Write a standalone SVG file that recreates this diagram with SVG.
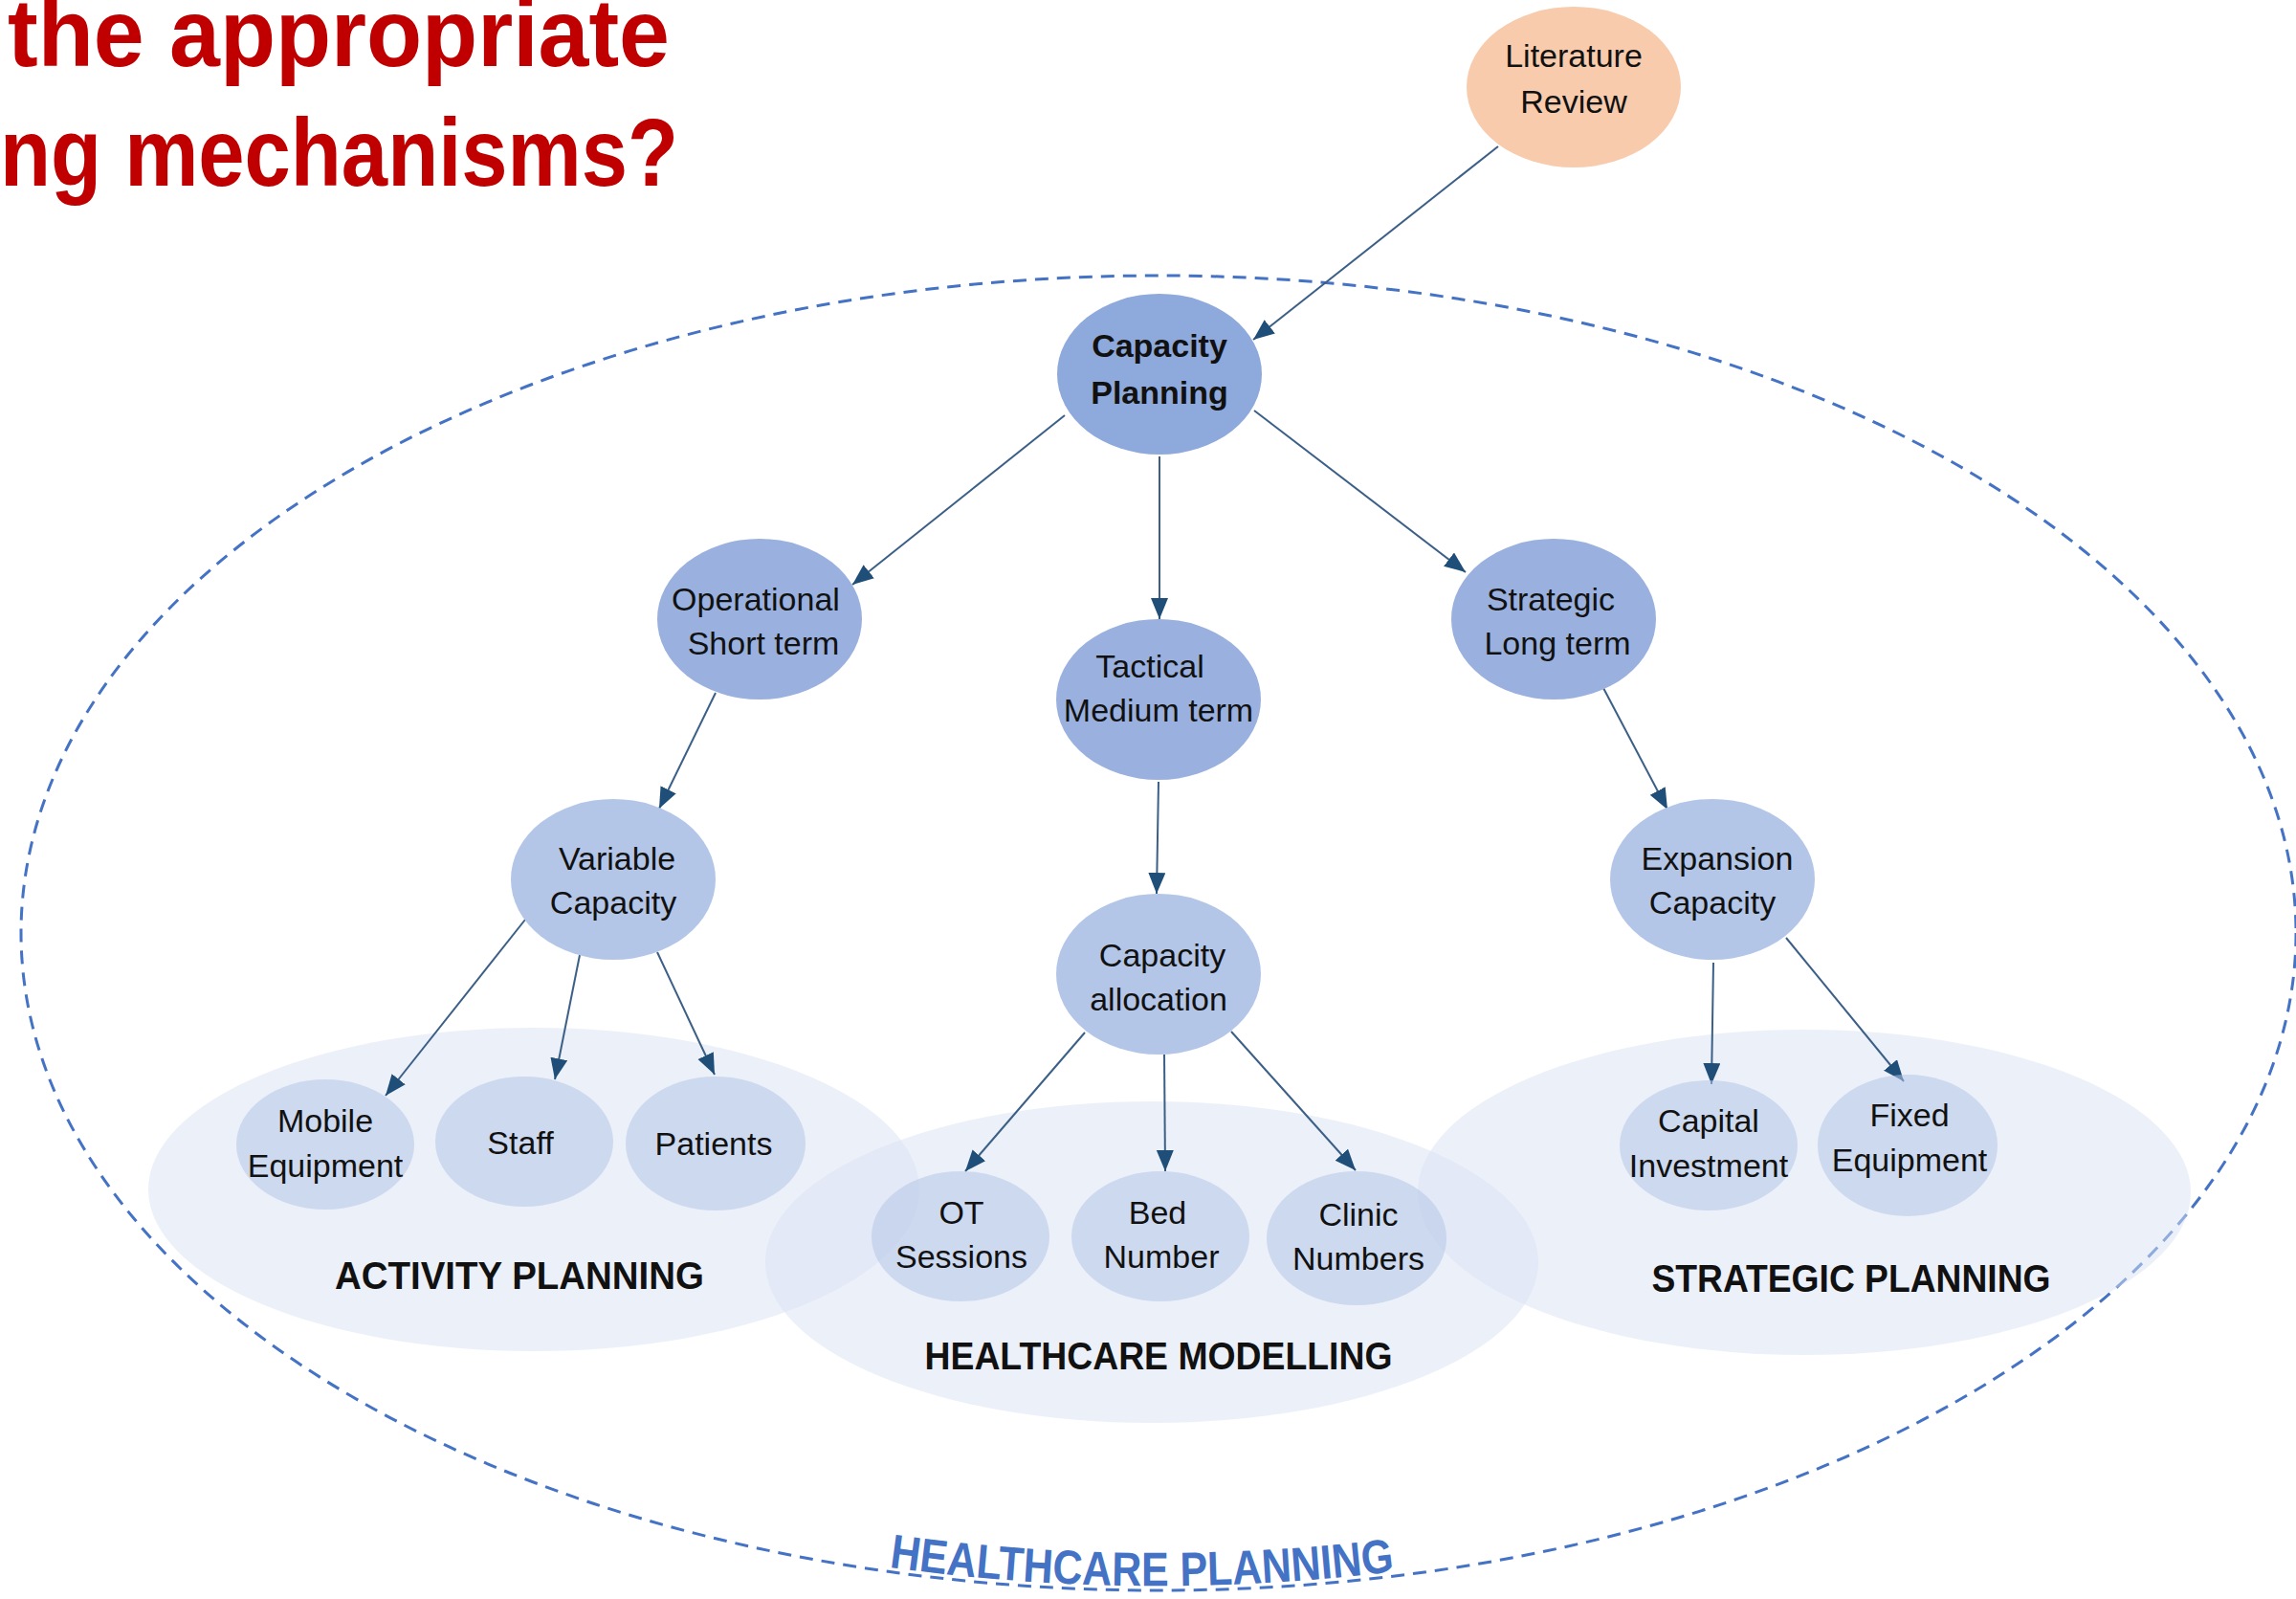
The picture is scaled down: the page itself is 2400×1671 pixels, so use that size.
<svg xmlns="http://www.w3.org/2000/svg" width="2400" height="1671" viewBox="0 0 2400 1671">
<style>
.title{font-family:"Liberation Sans",Arial,sans-serif;font-weight:bold;font-size:100px;fill:#C00000}
.t{font-family:"Liberation Sans",Arial,sans-serif;font-size:34px;fill:#111;text-anchor:middle}
.tb{font-family:"Liberation Sans",Arial,sans-serif;font-size:34px;font-weight:bold;fill:#111;text-anchor:middle}
.grp{fill:#D9E2F3;fill-opacity:0.5}
.glabel{font-family:"Liberation Sans",Arial,sans-serif;font-size:40px;font-weight:bold;fill:#111;text-anchor:middle}
.l1{fill:#8EA9DB}
.l2{fill:#9AB1DF}
.l3{fill:#B4C6E8}
.l4{fill:#B4C7E7;fill-opacity:0.55}
.conn line{stroke:#3B5F86;stroke-width:2;marker-end:url(#arr)}
</style>
<defs>
<marker id="arr" markerUnits="userSpaceOnUse" markerWidth="24" markerHeight="20" refX="22" refY="9" orient="auto">
<path d="M0,0 L22,9 L0,18 z" fill="#1F4E79"/>
</marker>
<path id="hcarc" d="M 880 1630 A 1180 683 0 0 0 1540 1630"/>
</defs>
<rect width="2400" height="1671" fill="#FFFFFF"/>

<g id="title">
<text class="title" x="8" y="69" textLength="692" lengthAdjust="spacingAndGlyphs">the appropriate</text>
<text class="title" x="0" y="194" textLength="709" lengthAdjust="spacingAndGlyphs">ng mechanisms?</text>
</g>

<g id="healthcare-planning">
<ellipse cx="1211" cy="975" rx="1189" ry="687" fill="none" stroke="#4472C4" stroke-width="3" stroke-dasharray="14 9"/>
<text font-family="'Liberation Sans',Arial,sans-serif" font-size="50" font-weight="bold" fill="#4472C4" text-anchor="middle"><textPath href="#hcarc" startOffset="47.5%" textLength="530" lengthAdjust="spacingAndGlyphs">HEALTHCARE PLANNING</textPath></text>
</g>

<g id="activity-planning">
<ellipse class="grp" cx="558" cy="1243" rx="403" ry="169"/>
</g>
<g id="healthcare-modelling">
<ellipse class="grp" cx="1204" cy="1319" rx="404" ry="168"/>
</g>
<g id="strategic-planning">
<ellipse class="grp" cx="1886" cy="1246" rx="404" ry="170"/>
</g>
<g id="group-labels">
<text class="glabel" x="543" y="1347" textLength="386" lengthAdjust="spacingAndGlyphs">ACTIVITY PLANNING</text>
<text class="glabel" x="1211" y="1431" textLength="489" lengthAdjust="spacingAndGlyphs">HEALTHCARE MODELLING</text>
<text class="glabel" x="1935" y="1350" textLength="417" lengthAdjust="spacingAndGlyphs">STRATEGIC PLANNING</text>
</g>

<g id="connectors" class="conn">
<line x1="1566" y1="153" x2="1310" y2="355"/>
<line x1="1113" y1="434" x2="891" y2="611"/>
<line x1="1212" y1="477" x2="1212" y2="647"/>
<line x1="1311" y1="429" x2="1532" y2="598"/>
<line x1="748" y1="724" x2="689" y2="845"/>
<line x1="1211" y1="817" x2="1209" y2="934"/>
<line x1="1676" y1="719" x2="1743" y2="846"/>
<line x1="549" y1="961" x2="403" y2="1145"/>
<line x1="606" y1="998" x2="580" y2="1128"/>
<line x1="687" y1="995" x2="747" y2="1123"/>
<line x1="1134" y1="1079" x2="1009" y2="1224"/>
<line x1="1217" y1="1102" x2="1218" y2="1224"/>
<line x1="1287" y1="1078" x2="1417" y2="1223"/>
<line x1="1791" y1="1006" x2="1789" y2="1133"/>
<line x1="1867" y1="980" x2="1990" y2="1130"/>
</g>

<g id="literature-review">
<ellipse cx="1645" cy="91" rx="112" ry="84" fill="#F8CBAD"/>
<text class="t" x="1645" y="70">Literature</text>
<text class="t" x="1645" y="118">Review</text>
</g>
<g id="capacity-planning">
<ellipse class="l1" cx="1212" cy="391" rx="107" ry="84"/>
<text class="tb" x="1212" y="373">Capacity</text>
<text class="tb" x="1212" y="422">Planning</text>
</g>
<g id="operational">
<ellipse class="l2" cx="794" cy="647" rx="107" ry="84"/>
<text class="t" x="790" y="638">Operational</text>
<text class="t" x="798" y="684">Short term</text>
</g>
<g id="tactical">
<ellipse class="l2" cx="1211" cy="731" rx="107" ry="84"/>
<text class="t" x="1202" y="708">Tactical</text>
<text class="t" x="1211" y="754">Medium term</text>
</g>
<g id="strategic">
<ellipse class="l2" cx="1624" cy="647" rx="107" ry="84"/>
<text class="t" x="1621" y="638">Strategic</text>
<text class="t" x="1628" y="684">Long term</text>
</g>
<g id="variable-capacity">
<ellipse class="l3" cx="641" cy="919" rx="107" ry="84"/>
<text class="t" x="645" y="909">Variable</text>
<text class="t" x="641" y="955">Capacity</text>
</g>
<g id="capacity-allocation">
<ellipse class="l3" cx="1211" cy="1018" rx="107" ry="84"/>
<text class="t" x="1215" y="1010">Capacity</text>
<text class="t" x="1211" y="1056">allocation</text>
</g>
<g id="expansion-capacity">
<ellipse class="l3" cx="1790" cy="919" rx="107" ry="84"/>
<text class="t" x="1795" y="909">Expansion</text>
<text class="t" x="1790" y="955">Capacity</text>
</g>
<g id="mobile-equipment">
<ellipse class="l4" cx="340" cy="1196" rx="93" ry="68"/>
<text class="t" x="340" y="1183">Mobile</text>
<text class="t" x="340" y="1230">Equipment</text>
</g>
<g id="staff">
<ellipse class="l4" cx="548" cy="1193" rx="93" ry="68"/>
<text class="t" x="544" y="1206">Staff</text>
</g>
<g id="patients">
<ellipse class="l4" cx="748" cy="1195" rx="94" ry="70"/>
<text class="t" x="746" y="1207">Patients</text>
</g>
<g id="ot-sessions">
<ellipse class="l4" cx="1004" cy="1292" rx="93" ry="68"/>
<text class="t" x="1005" y="1279">OT</text>
<text class="t" x="1005" y="1325">Sessions</text>
</g>
<g id="bed-number">
<ellipse class="l4" cx="1213" cy="1292" rx="93" ry="68"/>
<text class="t" x="1210" y="1279">Bed</text>
<text class="t" x="1214" y="1325">Number</text>
</g>
<g id="clinic-numbers">
<ellipse class="l4" cx="1418" cy="1294" rx="94" ry="70"/>
<text class="t" x="1420" y="1281">Clinic</text>
<text class="t" x="1420" y="1327">Numbers</text>
</g>
<g id="capital-investment">
<ellipse class="l4" cx="1786" cy="1197" rx="93" ry="68"/>
<text class="t" x="1786" y="1183">Capital</text>
<text class="t" x="1786" y="1230">Investment</text>
</g>
<g id="fixed-equipment">
<ellipse class="l4" cx="1994" cy="1197" rx="94" ry="74"/>
<text class="t" x="1996" y="1177">Fixed</text>
<text class="t" x="1996" y="1224">Equipment</text>
</g>
</svg>
